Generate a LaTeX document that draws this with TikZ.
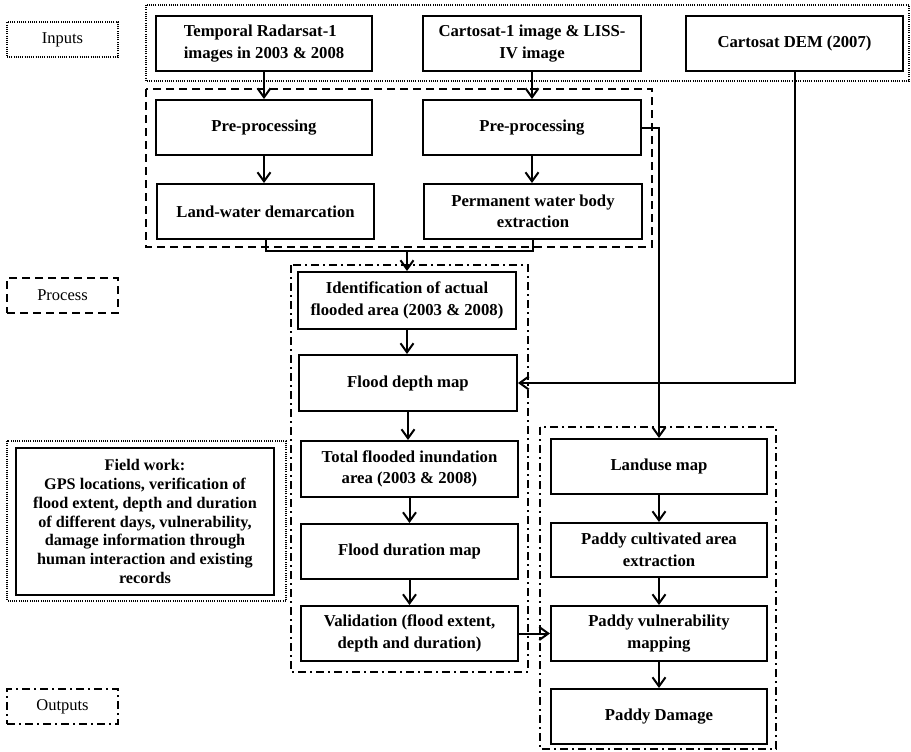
\documentclass[tikz,border=0pt]{standalone}
\usepackage{fontspec}
\setmainfont{Liberation Serif}
\usetikzlibrary{arrows.meta}
\begin{document}
\begin{tikzpicture}[x=1pt,y=-1pt,
  box/.style={draw, line width=2pt, align=center, font=\bfseries\fontsize{16.7}{21.5}\selectfont, inner sep=2pt},
  legendbox/.style={draw, line width=1.6pt, minimum width=111pt, minimum height=35pt, font=\fontsize{16.5}{20}\selectfont},
  dotframe/.style={line width=1.6pt, dash pattern=on 1pt off 1.2pt},
  dashframe/.style={line width=1.6pt, dash pattern=on 8pt off 5pt},
  dashdotframe/.style={line width=1.6pt, dash pattern=on 8pt off 4pt on 2pt off 4pt},
  conn/.style={line width=2pt},
  arr/.style={line width=2pt, -{Straight Barb[length=9pt,width=13pt,line width=2pt]}}
]
\useasboundingbox (0,0) rectangle (911,752);
% group frames
\draw[dotframe] (146,5) rectangle (909,81);
\draw[dashframe] (146,89) rectangle (652,247);
\draw[dashdotframe] (291,265) rectangle (528,672);
\draw[dashdotframe] (540,427) rectangle (776,749);
\draw[dotframe] (7,441) rectangle (286,601);
% legends
\node[legendbox, dotframe] (lin) at (62.5,39.5) {Inputs};
\node[legendbox, dashframe] (lpr) at (62.5,295.5) {Process};
\node[legendbox, dashdotframe] (lout) at (62.5,706.5) {Outputs};
% inputs
\node[box, minimum width=216pt, minimum height=55pt, align=left] (radar) at (264,43.5) {Temporal Radarsat-1\\images in 2003 \& 2008};
\node[box, minimum width=218pt, minimum height=55pt] (carto) at (532,43.5) {Cartosat-1 image \& LISS-\\IV image};
\node[box, minimum width=217pt, minimum height=55pt] (dem) at (794.5,43.5) {Cartosat DEM (2007)};
% pre-processing
\node[box, minimum width=216pt, minimum height=55pt] (preL) at (264,127.5) {Pre-processing};
\node[box, minimum width=218pt, minimum height=55pt] (preR) at (532,127.5) {Pre-processing};
\node[box, minimum width=217pt, minimum height=55pt] (land) at (265.5,211.5) {Land-water demarcation};
\node[box, minimum width=218pt, minimum height=55pt] (perm) at (533,211.5) {Permanent water body\\extraction};
% process
\node[box, minimum width=218pt, minimum height=57pt] (ident) at (407,300.5) {Identification of actual\\flooded area (2003 \& 2008)};
\node[box, minimum width=218pt, minimum height=56pt] (depth) at (408,383) {Flood depth map};
\node[box, minimum width=217pt, minimum height=56pt] (total) at (409.5,469) {Total flooded inundation\\area (2003 \& 2008)};
\node[box, minimum width=217pt, minimum height=55pt] (dur) at (409.5,551.5) {Flood duration map};
\node[box, minimum width=217pt, minimum height=55pt] (valid) at (409.5,633.5) {Validation (flood extent,\\depth and duration)};
% outputs
\node[box, minimum width=216pt, minimum height=55pt] (landuse) at (659,466.5) {Landuse map};
\node[box, minimum width=216pt, minimum height=54pt] (paddyc) at (659,550) {Paddy cultivated area\\extraction};
\node[box, minimum width=216pt, minimum height=55pt] (paddyv) at (659,633.5) {Paddy vulnerability\\mapping};
\node[box, minimum width=216pt, minimum height=55pt] (damage) at (659,716.5) {Paddy Damage};
% field work
\node[box, minimum width=258pt, minimum height=147pt, font=\bfseries\fontsize{16.2}{18.8}\selectfont] (field) at (145,521.5) {Field work:\\GPS locations, verification of\\flood extent, depth and duration\\of different days, vulnerability,\\damage information through\\human interaction and existing\\records};
% connectors
\draw[arr] (radar) -- (radar |- preL.north);
\draw[arr] (carto) -- (carto |- preR.north);
\draw[arr] (preL) -- (preL |- land.north);
\draw[arr] (preR) -- (preR |- perm.north);
\coordinate (j) at (407,251);
\draw[conn] (land.south) |- (j) -| (perm.south);
\draw[arr] (j) -- (ident.north);
\draw[arr] (ident) -- (ident |- depth.north);
\draw[arr] (depth) -- (depth |- total.north);
\draw[arr] (total) -- (total |- dur.north);
\draw[arr] (dur) -- (dur |- valid.north);
\draw[arr] (dem.south) |- (depth.east);
\draw[arr] (preR.east) -| (landuse.north);
\draw[arr] (valid.east) -- (paddyv.west);
\draw[arr] (landuse) -- (landuse |- paddyc.north);
\draw[arr] (paddyc) -- (paddyc |- paddyv.north);
\draw[arr] (paddyv) -- (paddyv |- damage.north);
\end{tikzpicture}
\end{document}
